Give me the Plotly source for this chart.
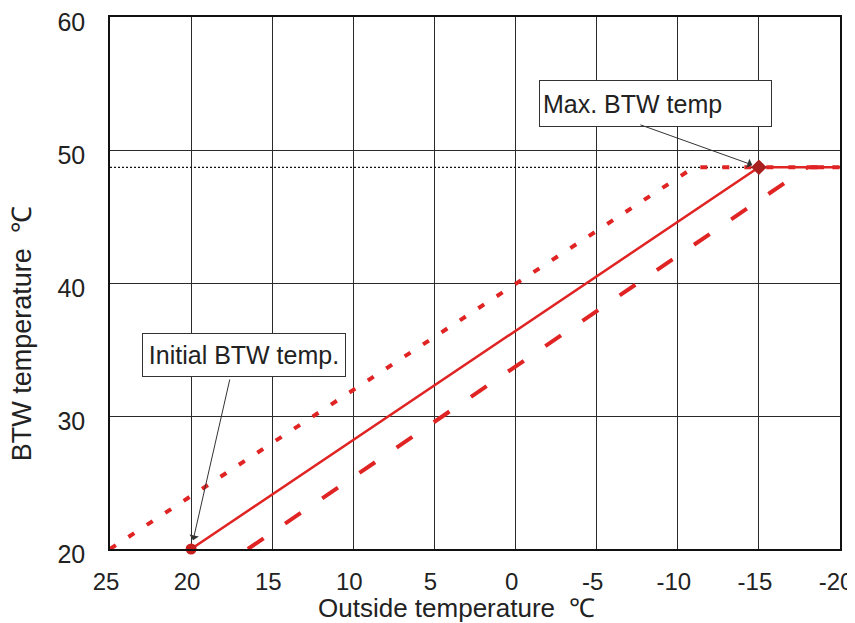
import plotly.graph_objects as go

# ---- data ----
x_ticks = [25, 20, 15, 10, 5, 0, -5, -10, -15, -20]
x_tick_labels = ["25", "20", "15", "10", "5", "0", "-5", "-10", "-15", "-20"]
y_ticks = [20, 30, 40, 50, 60]
y_tick_labels = ["20", "30", "40", "50", "60"]

solid_x = [20, -15, -20]
solid_y = [20, 48.7, 48.7]
dotted_x = [25, -11, -20]
dotted_y = [20, 48.7, 48.7]
dashed_x = [16.5, -18, -20]
dashed_y = [20, 48.7, 48.7]
max_ref_x = [25, -15]
max_ref_y = [48.7, 48.7]
initial_pt = (20, 20)
max_pt = (-15, 48.7)

RED = "#e02424"
FONT = "Liberation Sans, Arial, sans-serif"

fig = go.Figure()

fig.add_trace(go.Scatter(x=max_ref_x, y=max_ref_y, mode="lines",
                         line=dict(color="#111111", width=1.2, dash="2px,2px"),
                         hoverinfo="skip"))
fig.add_trace(go.Scatter(x=dotted_x, y=dotted_y, mode="lines",
                         line=dict(color=RED, width=4, dash="7px,15px"),
                         hoverinfo="skip"))
fig.add_trace(go.Scatter(x=dashed_x, y=dashed_y, mode="lines",
                         line=dict(color=RED, width=4, dash="19px,26px"),
                         hoverinfo="skip"))
fig.add_trace(go.Scatter(x=solid_x, y=solid_y, mode="lines",
                         line=dict(color=RED, width=2.5),
                         hoverinfo="skip"))
fig.add_trace(go.Scatter(x=[initial_pt[0]], y=[initial_pt[1]], mode="markers",
                         marker=dict(symbol="circle", size=11, color="#c81e1e"),
                         cliponaxis=False, hoverinfo="skip"))
fig.add_trace(go.Scatter(x=[max_pt[0]], y=[max_pt[1]], mode="markers",
                         marker=dict(symbol="diamond", size=12, color="#a82020"),
                         cliponaxis=False, hoverinfo="skip"))

axis_common = dict(showgrid=True, gridcolor="#2a2a2a", gridwidth=1.2,
                   showline=True, linecolor="#111111", linewidth=1.5, mirror=True,
                   zeroline=False, ticks="", automargin=False,
                   ticklabeloverflow="allow")

fig.update_xaxes(range=[25, -20], tickvals=x_ticks, ticktext=x_tick_labels,
                 ticklabelstandoff=10, ticklabelshift=4,
                 tickfont=dict(family=FONT, size=24, color="#222222"),
                 **axis_common)
fig.update_yaxes(range=[20, 60], tickvals=y_ticks, ticktext=y_tick_labels,
                 ticklabelstandoff=18, ticklabelshift=5,
                 tickfont=dict(family=FONT, size=25, color="#222222"),
                 **axis_common)

# axis titles
fig.add_annotation(xref="paper", yref="paper", x=0.475, y=-0.111,
                   xanchor="center", yanchor="middle",
                   text="Outside temperature  ℃", showarrow=False,
                   font=dict(family=FONT, size=26, color="#222222"))
fig.add_annotation(xref="paper", yref="paper", x=-0.121, y=0.405,
                   xanchor="center", yanchor="middle", textangle=-90,
                   text="BTW temperature  ℃", showarrow=False,
                   font=dict(family=FONT, size=27, color="#222222"))

# text boxes
fig.add_annotation(x=-8.63, y=53.53, xref="x", yref="y", text="Max. BTW temp",
                   showarrow=False, width=225, height=39, borderpad=3, align="left",
                   bordercolor="#333333", borderwidth=1, bgcolor="white",
                   font=dict(family=FONT, size=25, color="#222222"))
fig.add_annotation(x=16.74, y=34.59, xref="x", yref="y", text="Initial BTW temp.",
                   showarrow=False, width=202, height=42, borderpad=0,
                   bordercolor="#333333", borderwidth=1, bgcolor="white",
                   font=dict(family=FONT, size=25, color="#222222"))
# arrows
fig.add_annotation(x=max_pt[0], y=max_pt[1], xref="x", yref="y", text="",
                   showarrow=True, ax=-120, ay=-43, arrowhead=1, arrowsize=1.6,
                   arrowwidth=1, arrowcolor="#333333", standoff=7)
fig.add_annotation(x=initial_pt[0], y=initial_pt[1], xref="x", yref="y", text="",
                   showarrow=True, ax=39, ay=-171, arrowhead=1, arrowsize=1.6,
                   arrowwidth=1, arrowcolor="#333333", standoff=9)

# the page adds an 8px body margin, so the figure is sized to fit the window
fig.update_layout(width=847, height=615, showlegend=False,
                  paper_bgcolor="white", plot_bgcolor="white",
                  margin=dict(l=102, r=15, t=9, b=74))

fig.write_html("out.html")
